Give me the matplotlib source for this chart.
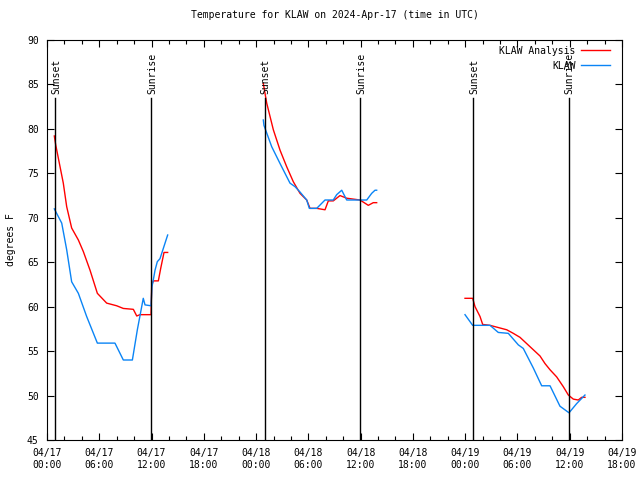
import matplotlib
matplotlib.use("Agg")
import matplotlib.pyplot as plt
from matplotlib.ticker import MultipleLocator, FixedLocator

# hours since 2024-04-17 00:00 UTC
ana_h1 = [0.84, 1.0, 1.87, 2.26, 2.83, 3.6, 4.17, 4.94, 5.78, 6.85, 8.0, 8.76, 9.91, 10.3, 10.67,
          11.94, 12.02, 12.2, 12.78, 13.05, 13.43, 13.85]
ana_t1 = [79.2, 78.2, 73.9, 71.25, 68.85, 67.5, 66.2, 64.1, 61.5, 60.4, 60.1, 59.8, 59.7, 58.95, 59.1,
          59.1, 62.4, 62.9, 62.9, 64.3, 66.1, 66.1]
ana_h2 = [24.83, 25.22, 25.98, 26.75, 27.51, 28.27, 29.04, 29.81, 30.19, 30.96, 31.91, 32.29, 32.86,
          33.63, 34.4, 35.93, 36.88, 37.45, 37.84]
ana_t2 = [85.1, 82.9, 79.9, 77.6, 75.75, 74.06, 72.75, 72.0, 71.06, 71.06, 70.9, 71.9, 71.9,
          72.5, 72.2, 72.0, 71.4, 71.7, 71.7]
ana_h3 = [47.98, 48.86, 49.13, 49.7, 50.01, 50.85, 52.0, 52.77, 53.52, 54.29, 55.44, 56.59, 57.16,
          57.74, 58.5, 59.26, 59.84, 60.41, 60.98, 61.37, 61.75]
ana_t3 = [60.94, 60.94, 60.0, 58.9, 58.0, 57.9, 57.6, 57.4, 57.0, 56.55, 55.5, 54.45, 53.6,
          52.9, 52.1, 51.0, 50.06, 49.6, 49.5, 49.8, 49.8]

obs_h1 = [0.84, 1.0, 1.69, 2.26, 2.83, 3.6, 4.55, 5.78, 7.8, 8.76, 9.8, 10.37, 11.05, 11.25, 11.94,
          12.05, 12.2, 12.4, 12.66, 12.97, 13.85]
obs_t1 = [71.0, 70.7, 69.4, 66.4, 62.8, 61.5, 58.9, 55.9, 55.9, 54.0, 54.0, 57.4, 60.94, 60.2, 60.1,
          62.25, 63.0, 64.1, 65.06, 65.4, 68.06]
obs_h2 = [24.83, 24.9, 25.79, 26.75, 27.89, 28.47, 29.04, 29.81, 30.11, 30.96, 31.91, 32.86, 33.25,
          33.83, 34.4, 36.7, 37.27, 37.65, 37.84]
obs_t2 = [81.0, 80.4, 78.0, 76.1, 73.9, 73.5, 72.9, 72.0, 71.06, 71.06, 72.0, 72.0, 72.6,
          73.1, 72.0, 72.0, 72.75, 73.1, 73.1]
obs_h3 = [47.98, 48.86, 50.85, 51.8, 52.95, 54.1, 54.67, 55.82, 56.78, 57.74, 58.88, 59.92, 60.8, 61.75]
obs_t3 = [59.1, 57.9, 57.9, 57.1, 57.0, 55.7, 55.3, 53.1, 51.1, 51.1, 48.8, 48.06, 49.1, 50.06]

sunset_h = [0.92, 24.97, 48.9]
sunrise_h = [11.94, 35.93, 59.9]

tick_h = list(range(0, 67, 6))
tick_labels = ["04/17\n00:00", "04/17\n06:00", "04/17\n12:00", "04/17\n18:00",
               "04/18\n00:00", "04/18\n06:00", "04/18\n12:00", "04/18\n18:00",
               "04/19\n00:00", "04/19\n06:00", "04/19\n12:00", "04/19\n18:00"]

RED = "#ff0000"
BLUE = "#0a84f5"
FONT = "DejaVu Sans Mono"
FS = 7

fig = plt.figure(figsize=(6.4, 4.8), dpi=100)
ax = fig.add_axes([47 / 640, 1 - 440 / 480, 575 / 640, 400 / 480])

for i, (h, t) in enumerate([(ana_h1, ana_t1), (ana_h2, ana_t2), (ana_h3, ana_t3)]):
    ax.plot(h, t, color=RED, lw=1, label="KLAW Analysis" if i == 0 else None)
for i, (h, t) in enumerate([(obs_h1, obs_t1), (obs_h2, obs_t2), (obs_h3, obs_t3)]):
    ax.plot(h, t, color=BLUE, lw=1, label="KLAW" if i == 0 else None)

# sunset / sunrise markers
for names, hours in (("Sunset", sunset_h), ("Sunrise", sunrise_h)):
    for h in hours:
        ax.plot([h, h], [45, 83.5], color="black", lw=1)
        ax.text(h + 0.1, 83.9, names, rotation=90, ha="center", va="bottom",
                fontsize=FS, family=FONT)

ax.set_xlim(0, 66)
ax.set_ylim(45, 90)
ax.xaxis.set_major_locator(FixedLocator(tick_h))
ax.set_xticklabels(tick_labels, family=FONT, fontsize=FS)
ax.xaxis.set_minor_locator(MultipleLocator(2))
ax.yaxis.set_major_locator(MultipleLocator(5))
for lab in ax.get_yticklabels():
    lab.set_family(FONT)
    lab.set_fontsize(FS)
ax.tick_params(which="both", direction="in", top=True, right=True, width=0.8)
ax.tick_params(which="major", length=5, pad=6)
ax.tick_params(which="minor", length=3)
for sp in ax.spines.values():
    sp.set_linewidth(0.8)

ax.set_ylabel("degrees F", family=FONT, fontsize=FS, labelpad=8)
ax.set_title("Temperature for KLAW on 2024-Apr-17 (time in UTC)", family=FONT, fontsize=FS, pad=16)

leg = ax.legend(loc="upper right", frameon=False, markerfirst=False, handlelength=3.0,
                prop={"family": FONT, "size": FS}, borderaxespad=0.2, labelspacing=0.5,
                handletextpad=0.6, bbox_to_anchor=(0.99, 1.0))
for txt in leg.get_texts():
    txt.set_ha("right")

fig.savefig("out.png", dpi=100)
